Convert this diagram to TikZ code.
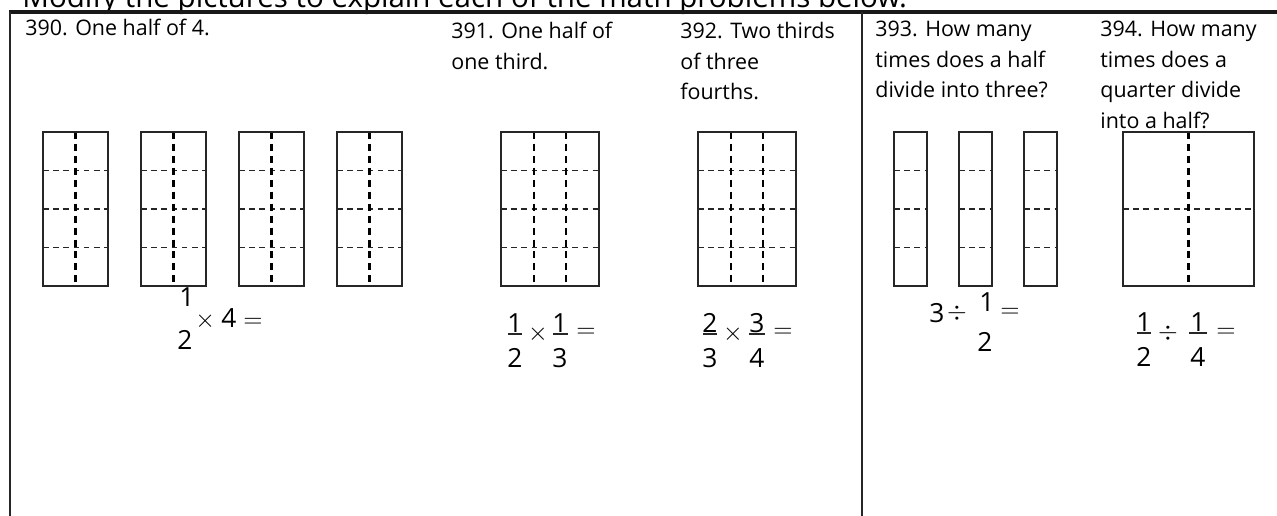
\documentclass[tikz,border=0pt]{standalone}
\usepackage{fontspec}
\setmainfont{Open Sans}
\begin{document}
\begin{tikzpicture}[x=0.02cm,y=-0.02cm,
  boxline/.style={line width=0.85pt, draw=black!85},
  hdash/.style={line width=0.7pt, draw=black!85, dash pattern=on 3.2pt off 2.6pt},
  vdash/.style={line width=1.3pt, draw=black, dash pattern=on 4pt off 2.8pt},
  frame/.style={line width=1.1pt, draw=black!85},
  topline/.style={line width=1.8pt, draw=black!90},
  head/.style={font=\fontsize{16.8}{20}\selectfont, anchor=base west, inner sep=0pt},
  txt/.style={font=\fontsize{12.2}{17}\selectfont, anchor=base west, inner sep=0pt},
  dig/.style={font=\fontsize{15}{18}\selectfont, inner sep=0pt},
  op/.style={font=\fontsize{14}{17}\selectfont, inner sep=0pt},
  bar/.style={line width=0.6pt, draw=black!85}]
\useasboundingbox (0,0) rectangle (1277,516);
\clip (0,0) rectangle (1277,516);

% header and frame
\node[head] (title) at (22,8) {Modify the pictures to explain each of the math problems below.};
\coordinate (tl) at (9,12); \coordinate (tr) at (1277,12);
\coordinate (lt) at (10,12); \coordinate (lb) at (10,516);
\coordinate (mt) at (862,12); \coordinate (mb) at (862,516);
\draw[topline] (tl) -- (tr);
\draw[frame] (lt) -- (lb);
\draw[frame] (mt) -- (mb);

% problem texts
\node[txt] (t390) at (25,36) {390. One half of 4.};
\node[txt] (t391a) at (451,39) {391. One half of};
\node[txt] (t391b) at (451,69.5) {one third.};
\node[txt] (t392a) at (680,39) {392. Two thirds};
\node[txt] (t392b) at (680,69.5) {of three};
\node[txt] (t392c) at (680,100) {fourths.};
\node[txt] (t393a) at (875,37) {393. How many};
\node[txt] (t393b) at (875,67.5) {times does a half};
\node[txt] (t393c) at (875,98) {divide into three?};
\node[txt] (t394a) at (1100,37) {394. How many};
\node[txt] (t394b) at (1100,67.5) {times does a};
\node[txt] (t394c) at (1100,98) {quarter divide};
\node[txt] (t394d) at (1100,128.5) {into a half?};

% 390 grids
\foreach \x in {43,141,239,337}{
  \foreach \y in {170.5,209,247.5}{\draw[hdash] (\x,\y) -- ++(65,0);}
  \draw[vdash] (\x+32.5,132) -- (\x+32.5,286);
  \draw[boxline] (\x,132) rectangle ++(65,154);
}
% 391 and 392 grids
\foreach \x in {501,698}{
  \foreach \y in {170.5,209,247.5}{\draw[hdash] (\x,\y) -- ++(98,0);}
  \draw[vdash] (\x+32.7,132) -- (\x+32.7,286);
  \draw[vdash] (\x+65.3,132) -- (\x+65.3,286);
  \draw[boxline] (\x,132) rectangle ++(98,154);
}
% 393 strips
\foreach \x in {894,959,1024}{
  \foreach \y in {170.5,209,247.5}{\draw[hdash] (\x,\y) -- ++(33,0);}
  \draw[boxline] (\x,132) rectangle ++(33,154);
}
% 394 square
\draw[hdash] (1123,209) -- (1254,209);
\draw[vdash] (1188.5,132) -- (1188.5,286);
\draw[boxline] (1123,132) rectangle (1254,286);

% 390 formula
\node[dig] (a1) at (187,297) {1};
\node[dig] (a2) at (185,340) {2};
\node[op, anchor=west] (a3) at (195,319) {$\times$ \fontsize{15}{18}\selectfont 4 $=$};

% 391 formula
\node[dig] (b1) at (515,323) {1};
\draw[bar] (508,334) -- (522,334);
\node[dig] (b2) at (515,358) {2};
\node[op] (b3) at (538,334) {$\times$};
\node[dig] (b4) at (560,323) {1};
\draw[bar] (553,334) -- (568,334);
\node[dig] (b5) at (560,358) {3};
\node[op] (b6) at (586,333) {$=$};

% 392 formula
\node[dig] (c1) at (710,323) {2};
\draw[bar] (703,334) -- (717,334);
\node[dig] (c2) at (710,358) {3};
\node[op] (c3) at (733,334) {$\times$};
\node[dig] (c4) at (757,323) {3};
\draw[bar] (749,334) -- (765,334);
\node[dig] (c5) at (757,358) {4};
\node[op] (c6) at (783,333) {$=$};

% 393 formula
\node[dig] (d1) at (937,313) {3};
\node[op] (d2) at (957,313) {$\div$};
\node[dig] (d3) at (987,302) {1};
\node[dig] (d4) at (985,342) {2};
\node[op] (d5) at (1010,313) {$=$};

% 394 formula
\node[dig] (e1) at (1144,322) {1};
\draw[bar] (1137,333) -- (1151,333);
\node[dig] (e2) at (1144,357) {2};
\node[op] (e3) at (1168,333) {$\div$};
\node[dig] (e4) at (1198,322) {1};
\draw[bar] (1189,333) -- (1207,333);
\node[dig] (e5) at (1198,357) {4};
\node[op] (e6) at (1226,333) {$=$};
\end{tikzpicture}
\end{document}
